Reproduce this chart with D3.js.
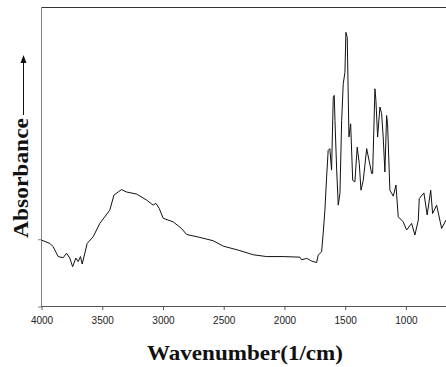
<!DOCTYPE html>
<html>
<head>
<meta charset="utf-8">
<script src="https://cdn.jsdelivr.net/npm/d3@7"></script>
<style>
  html, body { margin: 0; padding: 0; background: #fff; }
  svg { display: block; }
</style>
</head>
<body>
<svg id="chart"></svg>
<script>
// spectrum: wavenumber (1/cm) and relative absorbance
const wavenumbers = [4000, 3931, 3904, 3863, 3822, 3794, 3767, 3744, 3717, 3698, 3679, 3665, 3643, 3624,
  3575, 3520, 3438, 3404, 3369, 3341, 3300, 3217, 3135, 3081, 3058, 3031, 2998, 2916, 2847, 2806,
  2696, 2587, 2504, 2367, 2257, 2147, 2010, 1873, 1859, 1817, 1776, 1735, 1722, 1694, 1681, 1667,
  1653, 1640, 1626, 1612, 1598, 1590, 1584, 1570, 1557, 1543, 1529, 1516, 1502, 1494, 1483, 1469,
  1455, 1438, 1420, 1401, 1384, 1370, 1351, 1323, 1282, 1274, 1255, 1247, 1233, 1214, 1200, 1187,
  1173, 1159, 1151, 1132, 1104, 1082, 1063, 1022, 994, 953, 926, 898, 890, 852, 825, 796, 780,
  747, 706, 670];
const absorbance = [0.222, 0.211, 0.200, 0.167, 0.163, 0.178, 0.162, 0.133, 0.162, 0.150, 0.167, 0.142, 0.179, 0.211,
  0.233, 0.278, 0.322, 0.372, 0.383, 0.391, 0.383, 0.376, 0.356, 0.339, 0.345, 0.328, 0.295, 0.283, 0.261, 0.241,
  0.231, 0.220, 0.202, 0.187, 0.173, 0.167, 0.167, 0.165, 0.156, 0.161, 0.152, 0.147, 0.172, 0.183, 0.245, 0.322,
  0.433, 0.522, 0.528, 0.456, 0.700, 0.706, 0.622, 0.456, 0.339, 0.379, 0.622, 0.745, 0.783, 0.917, 0.900, 0.567,
  0.611, 0.422, 0.417, 0.533, 0.478, 0.389, 0.422, 0.528, 0.445, 0.445, 0.728, 0.689, 0.567, 0.667, 0.645, 0.567,
  0.450, 0.639, 0.611, 0.389, 0.369, 0.406, 0.300, 0.283, 0.256, 0.278, 0.239, 0.289, 0.361, 0.380, 0.306, 0.389, 0.311,
  0.339, 0.261, 0.289];
const xTicks = [4000, 3500, 3000, 2500, 2000, 1500, 1000];
const yTicks = [0, 0.225];

const width = 446;
const height = 367;
const marginTop = 7;
const marginLeft = 41;
const marginBottom = 306;

const svg = d3.select("#chart")
  .attr("width", width)
  .attr("height", height);

const x = d3.scaleLinear()
  .domain([4000, 670])
  .range([marginLeft + 0.5, width]);

const y = d3.scaleLinear()
  .domain([0, 1])
  .range([marginBottom + 0.5, marginTop + 0.5]);

// top frame line
svg.append("line")
  .attr("x1", marginLeft).attr("x2", width)
  .attr("y1", marginTop + 0.5).attr("y2", marginTop + 0.5)
  .attr("stroke", "#333");

// left axis
const yAxis = svg.append("g")
  .attr("transform", `translate(${marginLeft},0)`)
  .call(d3.axisLeft(y).tickValues(yTicks).tickSize(3).tickFormat(""));
yAxis.select(".domain").attr("stroke", "#808080").attr("d", `M0.5,${marginTop}V${marginBottom + 0.5}`);
yAxis.selectAll(".tick line").attr("stroke", "#808080");

// bottom axis
const xAxis = svg.append("g")
  .attr("transform", `translate(0,${marginBottom})`)
  .call(d3.axisBottom(x).tickValues(xTicks).tickSize(4).tickPadding(7).tickFormat(d3.format("d")));
xAxis.select(".domain").attr("stroke", "#555").attr("d", `M${marginLeft},0.5H${width}`);
xAxis.selectAll(".tick line").attr("stroke", "#555");
xAxis.selectAll(".tick text")
  .attr("fill", "#222")
  .style("font-family", "'Liberation Sans', Arial, sans-serif")
  .style("font-size", "10px");

// spectrum
const line = d3.line()
  .x(i => x(wavenumbers[i]))
  .y(i => y(absorbance[i]));

svg.append("path")
  .datum(d3.range(wavenumbers.length))
  .attr("fill", "none")
  .attr("stroke", "#111")
  .attr("stroke-width", 1)
  .attr("d", line);

// axis titles
svg.append("text")
  .attr("x", 245)
  .attr("y", 360)
  .attr("text-anchor", "middle")
  .attr("textLength", 196)
  .attr("lengthAdjust", "spacingAndGlyphs")
  .style("font-family", "'Liberation Serif', 'Times New Roman', serif")
  .style("font-weight", "bold")
  .style("font-size", "22px")
  .attr("fill", "#111")
  .text("Wavenumber(1/cm)");

svg.append("text")
  .attr("transform", "translate(28,178) rotate(-90)")
  .attr("text-anchor", "middle")
  .attr("textLength", 120)
  .attr("lengthAdjust", "spacingAndGlyphs")
  .style("font-family", "'Liberation Serif', 'Times New Roman', serif")
  .style("font-weight", "bold")
  .style("font-size", "22px")
  .attr("fill", "#111")
  .text("Absorbance");

// arrow next to the y title
svg.append("line")
  .attr("x1", 23.5).attr("x2", 23.5)
  .attr("y1", 115).attr("y2", 62)
  .attr("stroke", "#111");
svg.append("path")
  .attr("d", "M23.5,55L20.5,63L26.5,63Z")
  .attr("fill", "#111");
</script>
</body>
</html>
